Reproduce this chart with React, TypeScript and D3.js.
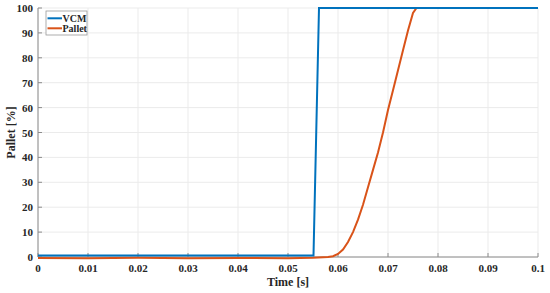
import React from "react";
import * as d3 from "d3";

const xTicks = [0, 0.01, 0.02, 0.03, 0.04, 0.05, 0.06, 0.07, 0.08, 0.09, 0.1];
const yTicks = [0, 10, 20, 30, 40, 50, 60, 70, 80, 90, 100];

const vcmTime = [0, 0.0551, 0.0562, 0.1];
const vcmValue = [0.6, 0.6, 100, 100];

const palletTime = [0, 0.01, 0.02, 0.03, 0.04, 0.05, 0.055, 0.058, 0.059, 0.06, 0.061, 0.062, 0.063, 0.064, 0.065, 0.066, 0.067, 0.068, 0.069, 0.07, 0.071, 0.072, 0.073, 0.074, 0.075, 0.0757, 0.08, 0.09, 0.1];
const palletValue = [-0.4, -0.5, -0.3, -0.5, -0.4, -0.5, -0.3, 0, 0.3, 1.2, 3, 6, 10, 15, 21, 28, 35, 42, 50, 59, 67, 75, 83, 91, 98, 100, 100, 100, 100];

const W = 550, H = 293;
const M = { left: 38, right: 12, top: 8, bottom: 36 };

export default function App() {
  const x = d3.scaleLinear().domain([0, 0.1]).range([M.left, W - M.right]);
  const y = d3.scaleLinear().domain([0, 100]).range([H - M.bottom, M.top]);
  const line = d3.line<[number, number]>().x(d => x(d[0])).y(d => y(d[1]));
  const vcm = vcmTime.map((t, i) => [t, vcmValue[i]] as [number, number]);
  const pal = palletTime.map((t, i) => [t, palletValue[i]] as [number, number]);
  const ts: React.CSSProperties = { fontFamily: "'Liberation Serif', serif", fontWeight: 700 };
  const axisCol = "#8c8c8c";
  return (
    <svg width={W} height={H} style={{ position: "absolute", left: 0, top: 0 }}>
      <rect width={W} height={H} fill="#fff" />
      {xTicks.map(t => (
        <line key={"gx" + t} x1={x(t)} x2={x(t)} y1={y(0)} y2={y(100)} stroke="#ebebeb" strokeWidth={1} />
      ))}
      {yTicks.map(t => (
        <line key={"gy" + t} x1={x(0)} x2={x(0.1)} y1={y(t)} y2={y(t)} stroke="#ebebeb" strokeWidth={1} />
      ))}
      <line x1={x(0)} x2={x(0)} y1={y(0)} y2={y(100)} stroke={axisCol} />
      <line x1={x(0)} x2={x(0.1)} y1={y(0)} y2={y(0)} stroke={axisCol} />
      {xTicks.map(t => (
        <g key={"tx" + t}>
          <line x1={x(t)} x2={x(t)} y1={y(0)} y2={y(0) - 4} stroke={axisCol} />
          <text x={x(t)} y={y(0) + 15} textAnchor="middle" fontSize={11} style={ts} fill="#262626">{t}</text>
        </g>
      ))}
      {yTicks.map(t => (
        <g key={"ty" + t}>
          <line x1={x(0)} x2={x(0) + 4} y1={y(t)} y2={y(t)} stroke={axisCol} />
          <text x={x(0) - 5} y={y(t) + 4} textAnchor="end" fontSize={11} style={ts} fill="#262626">{t}</text>
        </g>
      ))}
      <path d={line(pal) || ""} fill="none" stroke="#D95319" strokeWidth={2} />
      <path d={line(vcm) || ""} fill="none" stroke="#0072BD" strokeWidth={2} />
      <text x={(x(0) + x(0.1)) / 2} y={H - 7} textAnchor="middle" fontSize={12} style={ts} fill="#262626">Time [s]</text>
      <text transform={`translate(15,${(y(0) + y(100)) / 2}) rotate(-90)`} textAnchor="middle" fontSize={12} style={ts} fill="#262626">Pallet [%]</text>
      <g transform={`translate(${x(0) + 8},${y(100) + 3})`}>
        <rect x={0} y={0} width={41} height={24} fill="#fff" stroke="#999" strokeWidth={0.8} />
        <line x1={1.5} x2={16} y1={7.3} y2={7.3} stroke="#0072BD" strokeWidth={2} />
        <text x={16.5} y={11} fontSize={10} style={ts} fill="#262626">VCM</text>
        <line x1={1.5} x2={16} y1={17.3} y2={17.3} stroke="#D95319" strokeWidth={2} />
        <text x={16.5} y={21} fontSize={10} style={ts} fill="#262626">Pallet</text>
      </g>
    </svg>
  );
}
